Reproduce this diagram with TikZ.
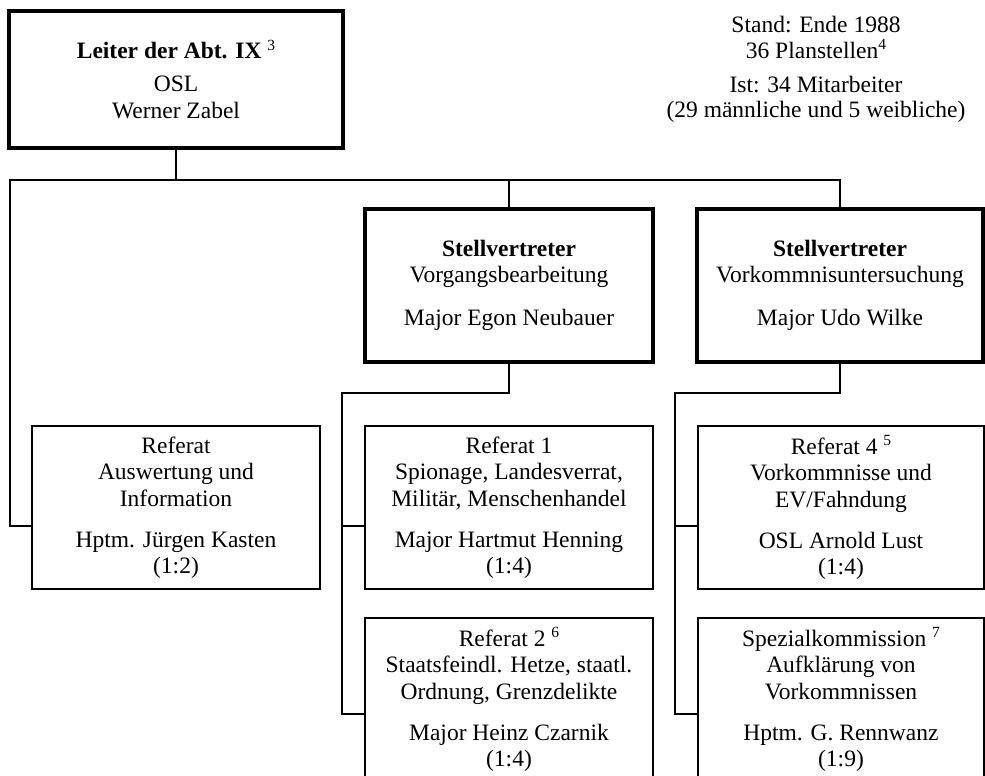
\documentclass[tikz,border=0pt]{standalone}
\usepackage{fontspec}
\setmainfont{Liberation Serif}
\newcommand\mainfs{\fontsize{23.5}{26.5}\selectfont}
\newcommand\fnm[1]{\raisebox{8.5pt}{\fontsize{15.5}{15.5}\selectfont #1}}
\tikzset{
  conn/.style={draw, line width=2pt},
  chiefbox/.style={draw, rectangle, line width=4.5pt, inner sep=0pt, align=center, font=\mainfs},
  unitbox/.style={draw, rectangle, line width=2pt, inner sep=0pt, align=center, font=\mainfs},
  note/.style={inner sep=0pt, align=center, font=\mainfs},
}
\begin{document}
\begin{tikzpicture}[x=1pt,y=-1pt]
\useasboundingbox (0,0) rectangle (985,776);
\clip (0,0) rectangle (985,776);
\fill[white] (0,0) rectangle (985,776);

% head
\node[chiefbox, minimum width=334pt, minimum height=137pt] (top) at (176,79.5)
  {{\bfseries Leiter der Abt. IX}\ \fnm{3}\\[6.5pt] OSL\\ Werner Zabel};

\node[note, anchor=north] (stand) at (816,15.5)
  {Stand: Ende 1988\\[-0.5pt] 36 Planstellen\fnm{4}\\[7.5pt] Ist: 34 Mitarbeiter\\[-1.5pt] (29 männliche und 5 weibliche)};

% deputies
\node[chiefbox, minimum width=288pt, minimum height=153pt] (st1) at (509,285.5)
  {\textbf{Stellvertreter}\\ Vorgangsbearbeitung\\[16.5pt] Major Egon Neubauer};
\node[chiefbox, minimum width=286pt, minimum height=153pt] (st2) at (840,285.5)
  {\textbf{Stellvertreter}\\ Vorkommnisuntersuchung\\[16.5pt] Major Udo Wilke};

% units
\node[unitbox, minimum width=288pt, minimum height=163pt] (refA) at (176,507.5)
  {Referat\\ Auswertung und\\ Information\\[14.5pt] Hptm. Jürgen Kasten\\ (1:2)};
\node[unitbox, minimum width=288pt, minimum height=163pt] (ref1) at (509,507.5)
  {Referat 1\\ Spionage, Landesverrat,\\ Militär, Menschenhandel\\[14.5pt] Major Hartmut Henning\\ (1:4)};
\node[unitbox, minimum width=288pt, minimum height=163pt] (ref2) at (509,699.5)
  {Referat 2 \fnm{6}\\ Staatsfeindl. Hetze, staatl.\\ Ordnung, Grenzdelikte\\[14.5pt] Major Heinz Czarnik\\ (1:4)};
\node[unitbox, minimum width=286pt, minimum height=163pt] (ref4) at (841,507.5)
  {Referat 4 \fnm{5}\\ Vorkommnisse und\\ EV/Fahndung\\[14.5pt] OSL Arnold Lust\\ (1:4)};
\node[unitbox, minimum width=286pt, minimum height=163pt] (spez) at (841,699.5)
  {Spezialkommission \fnm{7}\\ Aufklärung von\\ Vorkommnissen\\[14.5pt] Hptm. G. Rennwanz\\ (1:9)};

% connector coordinates
\coordinate (busL) at (10,180);
\coordinate (mL) at (342,393);
\coordinate (rL) at (675,393);
\coordinate (sA) at ([yshift=-18.5pt]refA.west);
\coordinate (s1) at ([yshift=-18.5pt]ref1.west);
\coordinate (s2) at ([yshift=-14.5pt]ref2.west);
\coordinate (s4) at ([yshift=-18.5pt]ref4.west);
\coordinate (s7) at ([yshift=-14.5pt]spez.west);

% connectors
\draw[conn] (top.south) -- (top.south |- busL);
\draw[conn] (sA) -| (busL) -- (st2.north |- busL) -- (st2.north);
\draw[conn] (st1.north |- busL) -- (st1.north);

\draw[conn] (st1.south) |- (mL) |- (s2);
\draw[conn] (s1 -| mL) -- (s1);

\draw[conn] (st2.south) |- (rL) |- (s7);
\draw[conn] (s4 -| rL) -- (s4);
\end{tikzpicture}
\end{document}
